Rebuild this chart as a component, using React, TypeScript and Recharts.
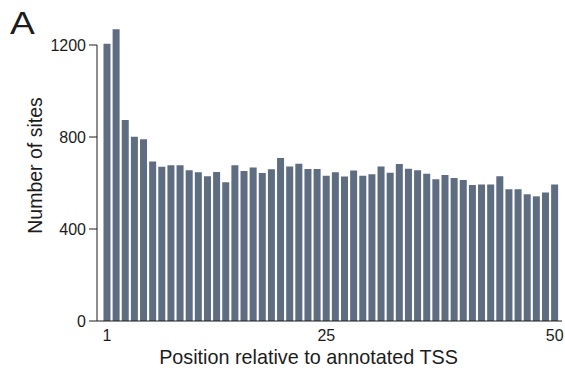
import { BarChart, Bar, XAxis, YAxis, ReferenceLine } from "recharts";

// position relative to annotated TSS (1..50)
const POSITIONS = [
    1, 2, 3, 4, 5, 6, 7, 8, 9, 10,
    11, 12, 13, 14, 15, 16, 17, 18, 19, 20,
    21, 22, 23, 24, 25, 26, 27, 28, 29, 30,
    31, 32, 33, 34, 35, 36, 37, 38, 39, 40,
    41, 42, 43, 44, 45, 46, 47, 48, 49, 50,
];

// number of sites at each position
const SITES = [
    1205, 1268, 874, 801, 790, 694, 671, 677, 677, 655,
    647, 629, 648, 603, 677, 652, 667, 643, 660, 709,
    672, 684, 661, 661, 632, 647, 628, 654, 632, 638,
    672, 645, 683, 662, 655, 640, 616, 635, 622, 613,
    591, 594, 594, 629, 573, 573, 551, 542, 559, 594,
];

const X_TICKS = [1, 25, 50];
const Y_TICKS = [0, 400, 800, 1200];

const BAR_COLOR = "#5e6d81";
const INK = "#1c1c1c";
const FONT = "'Liberation Sans', Arial, Helvetica, sans-serif";

const data = POSITIONS.map((p, i) => ({ pos: p, sites: SITES[i] }));

// rotated y title, centred a little above the plot middle like the figure
function YTitle({ viewBox }: { viewBox?: { x: number; y: number; width: number; height: number } }) {
    if (!viewBox) return null;
    const cx = viewBox.x + 35;
    const cy = viewBox.y + viewBox.height / 2 - 6;
    return (
        <text
            x={cx}
            y={cy}
            transform={`rotate(-90, ${cx}, ${cy})`}
            textAnchor="middle"
            dominantBaseline="central"
            fontSize={19.5}
            fill={INK}
            fontFamily={FONT}
        >
            Number of sites
        </text>
    );
}

export default function App() {
    return (
        <div style={{ position: "absolute", left: 0, top: 0, width: 565, height: 373, background: "#fff", fontFamily: FONT }}>
            {/* panel letter */}
            <div
                style={{
                    position: "absolute",
                    left: 10,
                    top: 8,
                    fontSize: 31,
                    lineHeight: "31px",
                    color: INK,
                    transform: "scaleX(1.2)",
                    transformOrigin: "left top",
                }}
            >
                A
            </div>
            <BarChart
                width={565}
                height={373}
                data={data}
                margin={{ top: 22, right: 3, left: 0, bottom: 0 }}
            >
                <XAxis
                    dataKey="pos"
                    type="number"
                    domain={[-0.1, 50.8]}
                    allowDataOverflow
                    ticks={X_TICKS}
                    tickLine={false}
                    tickSize={6}
                    tickMargin={3}
                    height={52}
                    axisLine={{ stroke: INK, strokeWidth: 1 }}
                    tick={{ fontSize: 16, fill: INK, fontFamily: FONT }}
                    label={{
                        value: "Position relative to annotated TSS",
                        position: "insideBottom",
                        offset: 9,
                        dx: -21,
                        fontSize: 19.8,
                        fill: INK,
                        fontFamily: FONT,
                    }}
                />
                <YAxis
                    type="number"
                    domain={[0, 1300]}
                    ticks={Y_TICKS}
                    width={97}
                    axisLine={false}
                    tickSize={8}
                    tickMargin={3}
                    tickLine={{ stroke: INK, strokeWidth: 1 }}
                    tick={{ fontSize: 16, fill: INK, fontFamily: FONT }}
                    label={<YTitle />}
                />
                {/* y axis line only runs from 0 to 1200 */}
                <ReferenceLine
                    segment={[{ x: -0.1, y: 0 }, { x: -0.1, y: 1200 }]}
                    stroke={INK}
                    strokeWidth={1}
                    ifOverflow="visible"
                />
                <Bar dataKey="sites" fill={BAR_COLOR} barSize={7} isAnimationActive={false} />
            </BarChart>
        </div>
    );
}
